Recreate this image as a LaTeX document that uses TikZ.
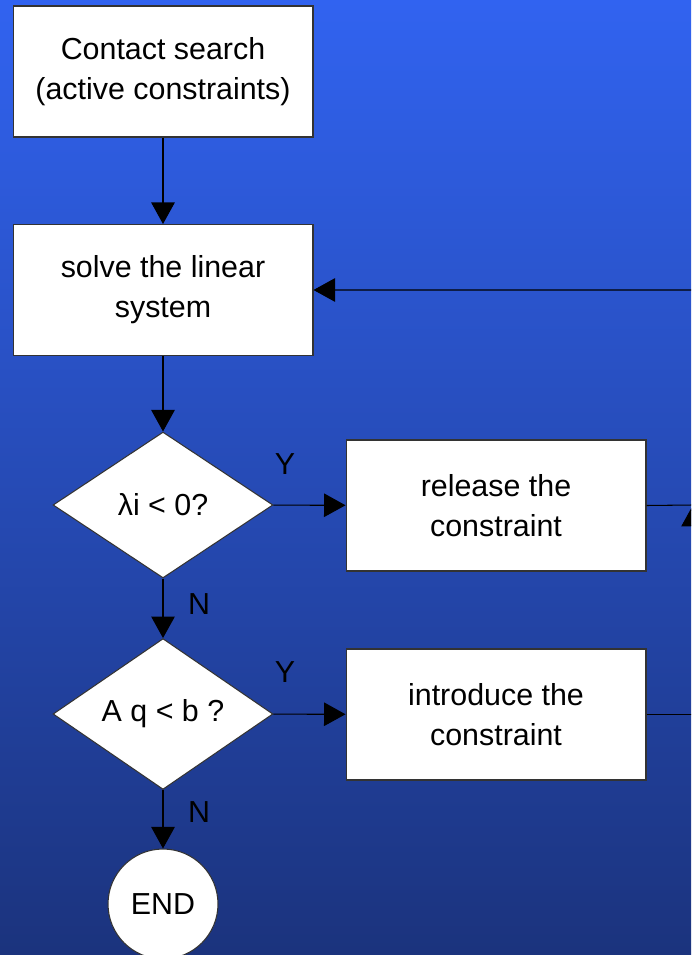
\documentclass[tikz,border=0pt]{standalone}
\usepackage{fontspec}
\setmainfont{Liberation Sans}
\usetikzlibrary{shapes.geometric,arrows.meta}
\definecolor{bgtop}{RGB}{49,99,240}
\definecolor{bgbot}{RGB}{27,51,125}
\newcommand{\flowfont}{\fontsize{17.3}{22.7}\selectfont}
\tikzset{
	box/.style={draw=black!80, fill=white, line width=0.6pt, minimum width=6cm, minimum height=2.62cm, align=center, font=\flowfont},
	test/.style={diamond, draw=black!80, fill=white, line width=0.6pt, minimum width=4.4cm, minimum height=2.92cm, inner sep=0pt, font=\flowfont},
	endnode/.style={circle, draw=black!80, fill=white, line width=0.6pt, minimum size=2.2cm, inner sep=0pt, font=\flowfont},
	flow/.style={-{Triangle[length=4.3mm,width=4.7mm]}, line width=0.6pt},
	yn/.style={font=\flowfont, inner sep=0pt}
}

\begin{document}
\begin{tikzpicture}[x=0.02cm, y=-0.02cm]
		% background and page frame
		\useasboundingbox (0,0) rectangle (691,955);
		\clip (0,0) rectangle (691,955);
		\shade[top color=bgtop, bottom color=bgbot] (0,0) rectangle (691,955);
		% Blocks:
		\node[box] (search) at (163, 71.5){Contact search\\(active constraints)};
		\node[box] (solve) at (163, 290){solve the linear\\system};
		\node[test] (lambda) at (163, 505){λi < 0?};
		\node[box] (release) at (496, 505.5){release the\\constraint};
		\node[test] (gap) at (163, 714){A q < b ?};
		\node[box] (introduce) at (496, 714.5){introduce the\\constraint};
		\node[endnode] (end) at (163, 904){END};
		% Labels:
		\node[yn] (y1) at (285, 464){Y};
		\node[yn] (n1) at (199, 604){N};
		\node[yn] (y2) at (285, 672){Y};
		\node[yn] (n2) at (199, 812){N};
		% Return loop, outside the page on the right:
		\coordinate (loopmid) at (693, 505);
		% Wires:
		\draw[flow] (search) -- (solve);
		\draw[flow] (solve) -- (lambda);
		\draw[flow] (lambda) -- (release);
		\draw[flow] (lambda) -- (gap);
		\draw[flow] (gap) -- (introduce);
		\draw[flow] (gap) -- (end);
		\draw[flow] (release.east) -- (loopmid) |- (solve.east);
		\draw[flow] (introduce.east) -| (loopmid);
	\end{tikzpicture}
\end{document}
